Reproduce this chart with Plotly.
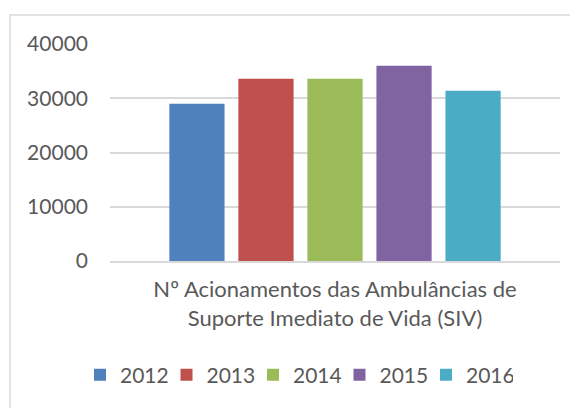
import plotly.graph_objects as go

years = ["2012", "2013", "2014", "2015", "2016"]
values = [29000, 33600, 33600, 36000, 31400]
colors = ["#4F81BD", "#C0504D", "#9BBB59", "#8064A2", "#4BACC6"]
category = ["Nº Acionamentos das Ambulâncias de<br>Suporte Imediato de Vida (SIV)"]
y_ticks = [0, 10000, 20000, 30000, 40000]

FONT = "Lato"
TXT = "#595959"
GRID = "#D9D9D9"

fig = go.Figure()
for yr, v, c in zip(years, values, colors):
    fig.add_trace(go.Bar(name=yr, x=category, y=[v], marker=dict(color=c, line=dict(width=0))))

# page has an 8px body margin: work in figure coordinates (page - 8)
OFF = 8
W, H = 578 - OFF, 408 - OFF
L, R, T, B = 110 - OFF, 578 - 560, 44 - OFF, 408 - 261
pw, ph = W - L - R, H - T - B

fig.update_layout(
    width=W, height=H,
    margin=dict(l=L, r=R, t=T, b=B, pad=0, autoexpand=False),
    paper_bgcolor="white", plot_bgcolor="white",
    barmode="group", bargap=0.233, bargroupgap=0.2,
    font=dict(family=FONT, size=21, color=TXT),
    showlegend=True,
    legend=dict(orientation="h", x=(80 - 110) / pw, xanchor="left",
                y=-(375 - 261) / ph, yanchor="middle",
                font=dict(family=FONT, size=21, color=TXT),
                entrywidth=41.5, entrywidthmode="pixels",
                itemwidth=30, traceorder="normal", bgcolor="rgba(0,0,0,0)"),
    shapes=[dict(type="rect", xref="paper", yref="paper",
                 x0=(10 - 110) / pw, x1=(600 - 110) / pw,
                 y0=-(430 - 261) / ph, y1=(261 - 15) / ph,
                 line=dict(color=GRID, width=1.5), fillcolor="rgba(0,0,0,0)", layer="below")],
)
fig.update_yaxes(range=[0, 40000], tickvals=y_ticks, tickformat="d", automargin=False,
                 showgrid=True, gridcolor=GRID, gridwidth=1.5, zeroline=False,
                 showline=False, ticks="", ticklabelstandoff=21,
                 tickfont=dict(family=FONT, size=21, color=TXT))
fig.update_xaxes(showgrid=False, zeroline=False, showline=True, linecolor=GRID, linewidth=1.5,
                 ticks="", ticklabelstandoff=8, automargin=False,
                 tickfont=dict(family=FONT, size=22, color=TXT))

fig.write_html("out.html")
